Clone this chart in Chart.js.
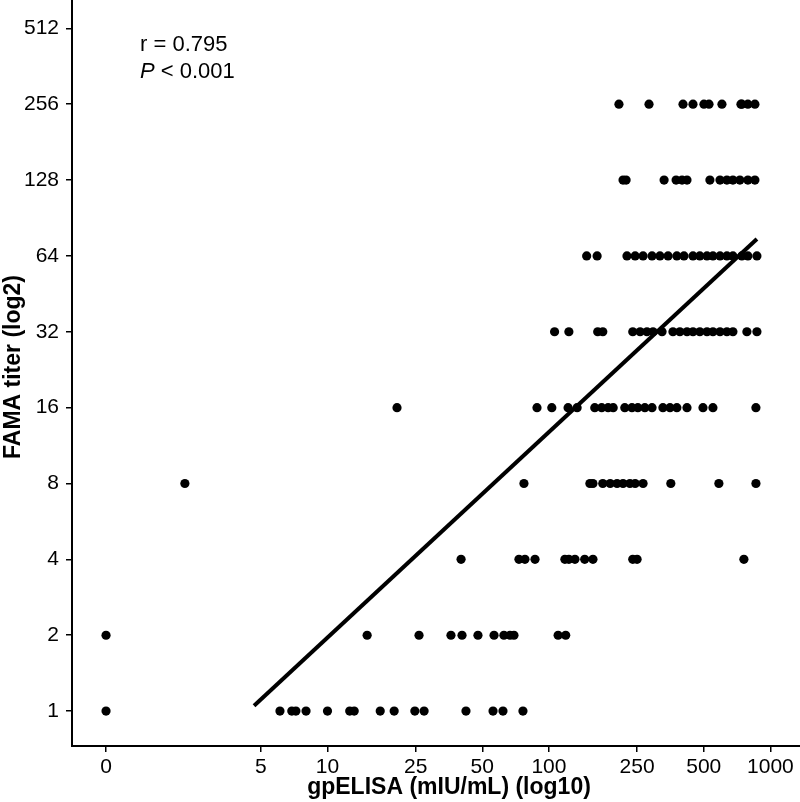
<!DOCTYPE html>
<html>
<head>
<meta charset="utf-8">
<script src="https://cdn.jsdelivr.net/npm/chart.js@4.4.1/dist/chart.umd.min.js"></script>
<style>
  html,body{margin:0;padding:0;background:#fff;}
  #wrap{width:800px;height:802px;}
</style>
</head>
<body>
<div id="wrap"><canvas id="chart" width="800" height="802"></canvas></div>
<script>
// FAMA titer levels (y) and the gpELISA readings (mIU/mL) found at each level
const titers = [1, 2, 4, 8, 16, 32, 64, 128, 256];
const elisaT1   = [0, 6.1, 6.9, 7.2, 8.0, 10, 12.6, 13.2, 17.3, 20, 24.8, 27.3, 42.2, 55.9, 62, 76.3];
const elisaT2   = [0, 15.1, 25.9, 36.1, 40.5, 47.8, 56.5, 62.6, 66.7, 69.5, 110, 119];
const elisaT4   = [40.1, 73.2, 77.9, 86.5, 118, 123, 131, 145, 158, 239, 250, 759];
const elisaT8   = [2.27, 77.1, 153, 158, 175, 189, 203, 216, 232, 245, 266, 355, 585, 860];
const elisaT16  = [20.6, 88.3, 103, 122, 134, 161, 173, 185, 195, 220, 237, 252, 271, 292, 327, 352, 378, 420, 496, 550, 860];
const elisaT32  = [106, 123, 166, 175, 239, 258, 277, 295, 324, 363, 390, 420, 447, 480, 517, 550, 592, 636, 677, 783, 869];
const elisaT64  = [148, 165, 225, 245, 266, 292, 317, 345, 378, 407, 447, 480, 517, 550, 592, 636, 677, 743, 791, 869];
const elisaT128 = [216, 223, 331, 375, 399, 420, 533, 592, 636, 677, 728, 791, 851];
const elisaT256 = [207, 283, 403, 447, 501, 528, 604, 736, 743, 791, 851];

// fitted line end points
const fitElisa = [4.66, 869];
const fitTiter = [1.05, 74.7];

const xTicks = [0, 5, 10, 25, 50, 100, 250, 500, 1000];
const yTicks = [1, 2, 4, 8, 16, 32, 64, 128, 256, 512];

const rows = [elisaT1, elisaT2, elisaT4, elisaT8, elisaT16, elisaT32, elisaT64, elisaT128, elisaT256];
// zero readings sit at the "0" tick, drawn at 1 on the log axis
const pos = v => (v === 0 ? 1 : v);
const points = [];
rows.forEach((r, i) => r.forEach(v => points.push({x: pos(v), y: titers[i]})));

const FONT = 'Liberation Sans, Arial, sans-serif';
const X_MIN = 0.702, X_MAX = 1360, Y_MIN = 0.727, Y_MAX = 663;

const labelsPlugin = {
  id: 'labelsPlugin',
  afterDraw(chart) {
    const ctx = chart.ctx;
    ctx.save();
    ctx.fillStyle = '#000';
    ctx.textBaseline = 'alphabetic';
    ctx.textAlign = 'left';
    ctx.font = '22px ' + FONT;
    ctx.fillText('r = 0.795', 140, 51);
    ctx.font = 'italic 22px ' + FONT;
    ctx.fillText('P', 140, 78);
    const w = ctx.measureText('P').width;
    ctx.font = '22px ' + FONT;
    ctx.fillText(' < 0.001', 140 + w, 78);

    // axis titles
    ctx.font = 'bold 23px ' + FONT;
    ctx.textAlign = 'center';
    ctx.textBaseline = 'middle';
    ctx.fillText('gpELISA (mIU/mL) (log10)', 449, 788);
    ctx.translate(14, 367);
    ctx.rotate(-Math.PI / 2);
    ctx.fillText('FAMA titer (log2)', 0, 0);
    ctx.restore();
  }
};

new Chart(document.getElementById('chart'), {
  type: 'scatter',
  data: {
    datasets: [
      {
        data: points,
        pointRadius: 4.6,
        pointBackgroundColor: '#000',
        pointBorderWidth: 0,
        pointHoverRadius: 4.6
      },
      {
        type: 'line',
        data: fitElisa.map((x, i) => ({x: x, y: fitTiter[i]})),
        borderColor: '#000',
        borderWidth: 4,
        pointRadius: 0,
        fill: false
      }
    ]
  },
  options: {
    responsive: false,
    animation: false,
    layout: {padding: 0, autoPadding: false},
    plugins: {legend: {display: false}, tooltip: {enabled: false}},
    scales: {
      x: {
        type: 'logarithmic',
        bounds: 'data',
        min: X_MIN, max: X_MAX,
        afterBuildTicks: s => {
          s.ticks = xTicks.map(v => ({value: pos(v)}));
          s.min = X_MIN; s.max = X_MAX;
        },
        afterFit: s => { s.height = 56; s.paddingLeft = 0; s.paddingRight = 0; },
        ticks: {
          autoSkip: false, maxRotation: 0, padding: 3, color: '#000',
          font: {family: FONT, size: 21},
          callback: (v, i) => String(xTicks[i])
        },
        grid: {drawOnChartArea: false, drawTicks: true, tickLength: 6, color: '#000', lineWidth: 1.5},
        border: {display: true, color: '#000', width: 2}
      },
      y: {
        type: 'logarithmic',
        bounds: 'data',
        min: Y_MIN, max: Y_MAX,
        afterBuildTicks: s => {
          s.ticks = yTicks.map(v => ({value: v}));
          s.min = Y_MIN; s.max = Y_MAX;
        },
        afterFit: s => { s.width = 72; s.paddingTop = 0; s.paddingBottom = 0; },
        ticks: {
          autoSkip: false, padding: 7, color: '#000',
          font: {family: FONT, size: 21},
          callback: (v, i) => String(yTicks[i])
        },
        grid: {drawOnChartArea: false, drawTicks: true, tickLength: 6, color: '#000', lineWidth: 1.5},
        border: {display: true, color: '#000', width: 2}
      }
    }
  },
  plugins: [labelsPlugin]
});
</script>
</body>
</html>
